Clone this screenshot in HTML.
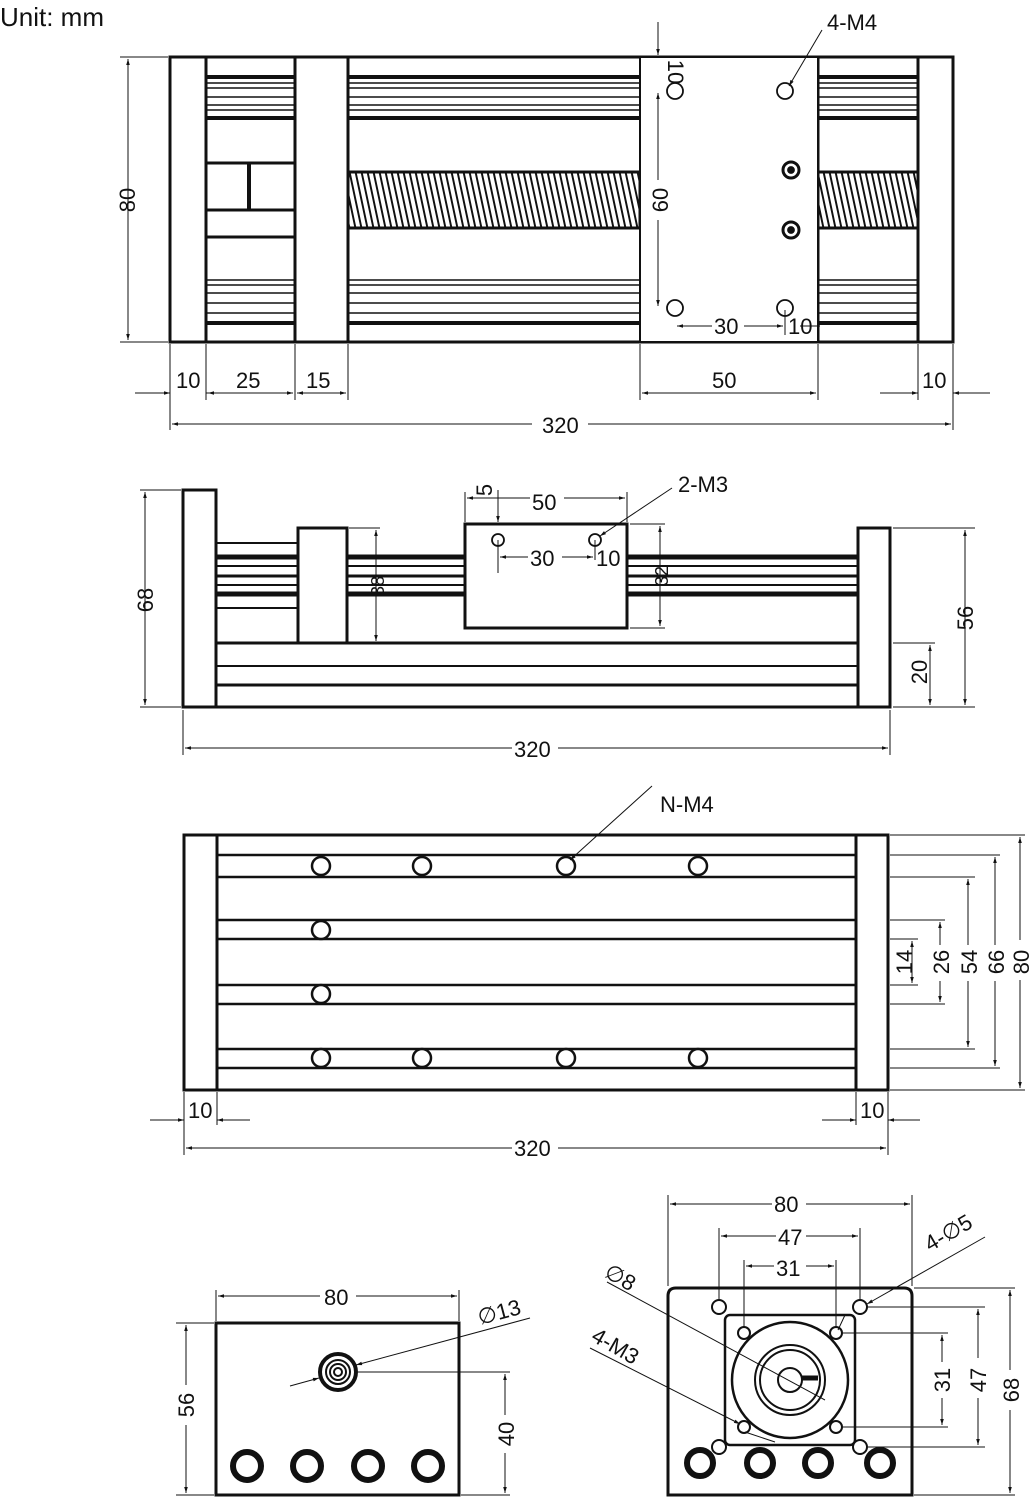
<!DOCTYPE html>
<html><head><meta charset="utf-8"><style>
html,body{margin:0;padding:0;background:#fff}
svg{display:block}
text{font-family:"Liberation Sans",sans-serif;font-size:22px;fill:#111}
</style></head><body>
<svg width="1034" height="1500" viewBox="0 0 1034 1500" xmlns="http://www.w3.org/2000/svg">
<defs>
<marker id="a" viewBox="0 0 10 10" refX="10" refY="5" markerWidth="10" markerHeight="6" orient="auto-start-reverse" markerUnits="userSpaceOnUse"><path d="M0,2 L10,5 L0,8z" fill="#111"/></marker>
<pattern id="h" width="6" height="60" patternUnits="userSpaceOnUse" patternTransform="skewX(12)"><rect x="0" y="0" width="2" height="60" fill="#111"/></pattern>
</defs>
<text x="0" y="26" style="font-size:26px">Unit: mm</text>

<!-- VIEW 1 -->
<g stroke="#111" fill="none" stroke-width="1.6">
<rect x="170" y="57" width="783" height="285" stroke-width="3"/>
<line x1="206" y1="57" x2="206" y2="342" stroke-width="3"/>
<line x1="295" y1="57" x2="295" y2="342" stroke-width="3"/>
<line x1="348" y1="57" x2="348" y2="342" stroke-width="3"/>
<line x1="640" y1="57" x2="640" y2="342" stroke-width="2"/>
<line x1="818" y1="57" x2="818" y2="342" stroke-width="3"/>
<line x1="918" y1="57" x2="918" y2="342" stroke-width="3"/>
<!-- rails -->
<g id="rl">
<line x1="0" y1="77" x2="0" y2="77" />
</g>
</g>
<g stroke="#111" stroke-width="1.6">
<path d="M206 77H295M348 77H640M818 77H918" stroke-width="4"/>
<path d="M206 83H295M348 83H640M818 83H918"/>
<path d="M206 88H295M348 88H640M818 88H918"/>
<path d="M206 97H295M348 97H640M818 97H918"/>
<path d="M206 105H295M348 105H640M818 105H918"/>
<path d="M206 110H295M348 110H640M818 110H918"/>
<path d="M206 118H295M348 118H640M818 118H918" stroke-width="4"/>
<path d="M206 280H295M348 280H640M818 280H918"/>
<path d="M206 285H295M348 285H640M818 285H918"/>
<path d="M206 293H295M348 293H640M818 293H918"/>
<path d="M206 303H295M348 303H640M818 303H918"/>
<path d="M206 313H295M348 313H640M818 313H918"/>
<path d="M206 323H295M348 323H640M818 323H918" stroke-width="4"/>
<path d="M206 163H295M206 210H295M206 237H295" stroke-width="3"/>
<path d="M249 163V210" stroke-width="4"/>
</g>
<rect x="348" y="172" width="292" height="56" fill="url(#h)" stroke="#111" stroke-width="3"/>
<rect x="818" y="172" width="100" height="56" fill="url(#h)" stroke="#111" stroke-width="3"/>
<rect x="641" y="58" width="176" height="283" fill="#fff"/>
<g stroke="#111" fill="none" stroke-width="1.8">
<circle cx="675" cy="91" r="8"/><circle cx="785" cy="91" r="8"/>
<circle cx="675" cy="308" r="8"/><circle cx="785" cy="308" r="8"/>
<circle cx="791" cy="170" r="8" stroke-width="3"/><circle cx="791" cy="170" r="3" fill="#111"/>
<circle cx="791" cy="230" r="8" stroke-width="3"/><circle cx="791" cy="230" r="3" fill="#111"/>
</g>
<g stroke="#111" stroke-width="1" fill="none">
<line x1="120" y1="57" x2="168" y2="57"/><line x1="120" y1="342" x2="168" y2="342"/>
<line x1="128" y1="59" x2="128" y2="340" marker-start="url(#a)" marker-end="url(#a)"/>
<path d="M170 344V430M206 344V400M295 344V400M348 344V400M640 344V400M818 344V400M918 344V400M953 344V430"/>
<line x1="135" y1="393" x2="170" y2="393" marker-end="url(#a)"/><line x1="206" y1="393" x2="210" y2="393"/>
<line x1="208" y1="393" x2="293" y2="393" marker-start="url(#a)" marker-end="url(#a)"/>
<line x1="297" y1="393" x2="346" y2="393" marker-start="url(#a)" marker-end="url(#a)"/>
<line x1="642" y1="393" x2="816" y2="393" marker-start="url(#a)" marker-end="url(#a)"/>
<line x1="880" y1="393" x2="918" y2="393" marker-end="url(#a)"/><line x1="990" y1="393" x2="953" y2="393" marker-end="url(#a)"/>
<line x1="172" y1="424" x2="951" y2="424" marker-start="url(#a)" marker-end="url(#a)"/>
<line x1="658" y1="22" x2="658" y2="55" marker-end="url(#a)"/>
<line x1="658" y1="93" x2="658" y2="306" marker-start="url(#a)" marker-end="url(#a)"/>
<line x1="677" y1="326" x2="783" y2="326" marker-start="url(#a)" marker-end="url(#a)"/>
<line x1="785" y1="310" x2="785" y2="335"/>
<line x1="822" y1="30" x2="789" y2="86" marker-end="url(#a)"/>
<line x1="820" y1="326" x2="800" y2="326" />
</g>
<rect x="532" y="410" width="56" height="28" fill="#fff"/>
<text x="542" y="433">320</text>
<text x="176" y="388">10</text><text x="236" y="388">25</text><text x="306" y="388">15</text>
<text x="712" y="388">50</text><text x="922" y="388">10</text>
<text transform="translate(135,200) rotate(-90)" text-anchor="middle">80</text>
<rect x="648" y="180" width="22" height="40" fill="#fff"/>
<text transform="translate(668,200) rotate(-90)" text-anchor="middle">60</text>
<text transform="translate(668,72) rotate(90)" text-anchor="middle">10</text>
<rect x="712" y="314" width="32" height="24" fill="#fff"/>
<text x="714" y="334">30</text><text x="788" y="334">10</text>
<text x="827" y="30">4-M4</text>

<!-- VIEW 2 -->
<g stroke="#111" fill="none" stroke-width="3">
<rect x="183" y="490" width="33" height="217"/>
<rect x="858" y="528" width="32" height="179"/>
<rect x="298" y="528" width="49" height="115"/>
<rect x="465" y="524" width="162" height="104"/>
<path d="M216 643H858M216 707H858"/>
<path d="M216 685H858" stroke-width="3"/>
<path d="M216 666H858" stroke-width="2"/>
<path d="M216 543H298M216 608H298" stroke-width="2"/>
<path d="M216 557H298M347 557H465M627 557H858" stroke-width="5"/>
<path d="M216 566H298M347 566H465M627 566H858" stroke-width="2"/>
<path d="M216 576H298M347 576H465M627 576H858" stroke-width="3"/>
<path d="M216 585H298M347 585H465M627 585H858" stroke-width="2"/>
<path d="M216 594H298M347 594H465M627 594H858" stroke-width="5"/>
</g>
<g stroke="#111" fill="none" stroke-width="1.8"><circle cx="498" cy="540" r="6"/><circle cx="595" cy="540" r="6"/></g>
<g stroke="#111" stroke-width="1" fill="none">
<path d="M140 490H181M140 707H181M183 710V755M890 710V755M349 528H380M349 643H380M630 524H665M630 628H665M893 528H975M893 707H975M893 643H935M465 492V522M627 492V522M498 540V573M595 540V560"/>
<line x1="145" y1="492" x2="145" y2="705" marker-start="url(#a)" marker-end="url(#a)"/>
<line x1="185" y1="748" x2="888" y2="748" marker-start="url(#a)" marker-end="url(#a)"/>
<line x1="376" y1="530" x2="376" y2="641" marker-start="url(#a)" marker-end="url(#a)"/>
<line x1="660" y1="526" x2="660" y2="626" marker-start="url(#a)" marker-end="url(#a)"/>
<line x1="965" y1="530" x2="965" y2="705" marker-start="url(#a)" marker-end="url(#a)"/>
<line x1="930" y1="645" x2="930" y2="705" marker-start="url(#a)" marker-end="url(#a)"/>
<line x1="467" y1="498" x2="625" y2="498" marker-start="url(#a)" marker-end="url(#a)"/>
<line x1="498" y1="490" x2="498" y2="522" marker-end="url(#a)"/>
<line x1="500" y1="557" x2="593" y2="557" marker-start="url(#a)" marker-end="url(#a)"/>
<line x1="672" y1="488" x2="600" y2="536" marker-end="url(#a)"/>
</g>
<rect x="512" y="737" width="46" height="24" fill="#fff"/><text x="514" y="757">320</text>
<rect x="530" y="488" width="34" height="24" fill="#fff"/><text x="532" y="510">50</text>
<rect x="528" y="546" width="34" height="24" fill="#fff"/><text x="530" y="566">30</text>
<text x="596" y="566">10</text>
<text x="678" y="492">2-M3</text>
<text transform="translate(492,490) rotate(-90)" text-anchor="middle">5</text>
<text transform="translate(153,600) rotate(-90)" text-anchor="middle">68</text>
<text transform="translate(973,618) rotate(-90)" text-anchor="middle">56</text>
<text transform="translate(927,672) rotate(-90)" text-anchor="middle">20</text>
<text transform="translate(384,586) rotate(-90)" text-anchor="middle" style="font-size:18px">38</text>
<text transform="translate(668,576) rotate(-90)" text-anchor="middle" style="font-size:18px">32</text>

<!-- VIEW 3 -->
<g stroke="#111" fill="none" stroke-width="3">
<rect x="184" y="835" width="704" height="255"/>
<path d="M217 835V1090M856 835V1090"/>
<path d="M217 855H856M217 877H856M217 920H856M217 939H856M217 985H856M217 1004H856M217 1049H856M217 1068H856" stroke-width="2.5"/>
</g>
<g stroke="#111" stroke-width="2.5" fill="#fff">
<circle cx="321" cy="866" r="9"/><circle cx="422" cy="866" r="9"/><circle cx="566" cy="866" r="9"/><circle cx="698" cy="866" r="9"/>
<circle cx="321" cy="930" r="9"/><circle cx="321" cy="994" r="9"/>
<circle cx="321" cy="1058" r="9"/><circle cx="422" cy="1058" r="9"/><circle cx="566" cy="1058" r="9"/><circle cx="698" cy="1058" r="9"/>
</g>
<g stroke="#111" stroke-width="1" fill="none">
<path d="M890 835H1025M890 855H1000M890 877H975M890 920H945M890 939H918M890 985H918M890 1004H945M890 1049H975M890 1068H1000M890 1090H1025M184 1092V1155M217 1092V1125M856 1092V1125M888 1092V1155"/>
<line x1="1020" y1="837" x2="1020" y2="1088" marker-start="url(#a)" marker-end="url(#a)"/>
<line x1="995" y1="857" x2="995" y2="1066" marker-start="url(#a)" marker-end="url(#a)"/>
<line x1="968" y1="879" x2="968" y2="1047" marker-start="url(#a)" marker-end="url(#a)"/>
<line x1="940" y1="922" x2="940" y2="1002" marker-start="url(#a)" marker-end="url(#a)"/>
<line x1="912" y1="941" x2="912" y2="983" marker-start="url(#a)" marker-end="url(#a)"/>
<line x1="186" y1="1148" x2="886" y2="1148" marker-start="url(#a)" marker-end="url(#a)"/>
<line x1="150" y1="1120" x2="184" y2="1120" marker-end="url(#a)"/><line x1="250" y1="1120" x2="217" y2="1120" marker-end="url(#a)"/>
<line x1="822" y1="1120" x2="856" y2="1120" marker-end="url(#a)"/><line x1="920" y1="1120" x2="888" y2="1120" marker-end="url(#a)"/>
<line x1="652" y1="786" x2="570" y2="860" marker-end="url(#a)"/>
</g>
<rect x="512" y="1136" width="46" height="24" fill="#fff"/><text x="514" y="1156">320</text>
<text x="188" y="1118">10</text><text x="860" y="1118">10</text>
<text x="660" y="812">N-M4</text>
<g fill="#fff"><rect x="1010" y="940" width="20" height="40"/><rect x="985" y="945" width="20" height="36"/><rect x="958" y="945" width="20" height="36"/><rect x="930" y="945" width="20" height="36"/></g>
<text transform="translate(1029,962) rotate(-90)" text-anchor="middle">80</text>
<text transform="translate(1004,962) rotate(-90)" text-anchor="middle">66</text>
<text transform="translate(977,962) rotate(-90)" text-anchor="middle">54</text>
<text transform="translate(949,962) rotate(-90)" text-anchor="middle">26</text>
<text transform="translate(912,962) rotate(-90)" text-anchor="middle">14</text>

<!-- VIEW 4 -->
<g stroke="#111" fill="none" stroke-width="3">
<rect x="216" y="1323" width="243" height="172"/>
<circle cx="338" cy="1372" r="18" stroke-width="4"/><circle cx="338" cy="1372" r="12" stroke-width="2"/><circle cx="338" cy="1372" r="8" stroke-width="2"/><circle cx="338" cy="1372" r="4" stroke-width="2"/>
</g>
<g stroke="#111" fill="#fff">
<circle cx="247" cy="1466" r="14" stroke-width="6"/><circle cx="307" cy="1466" r="14" stroke-width="6"/><circle cx="368" cy="1466" r="14" stroke-width="6"/><circle cx="428" cy="1466" r="14" stroke-width="6"/>
</g>
<g stroke="#111" stroke-width="1" fill="none">
<path d="M216 1290V1321M459 1290V1321M176 1323H214M176 1495H214M358 1372H510M461 1495H510"/>
<line x1="218" y1="1296" x2="457" y2="1296" marker-start="url(#a)" marker-end="url(#a)"/>
<line x1="186" y1="1325" x2="186" y2="1493" marker-start="url(#a)" marker-end="url(#a)"/>
<line x1="505" y1="1374" x2="505" y2="1493" marker-start="url(#a)" marker-end="url(#a)"/>
<line x1="530" y1="1318" x2="356" y2="1365" marker-end="url(#a)"/>
<line x1="290" y1="1386" x2="319" y2="1378" marker-end="url(#a)"/>
</g>
<rect x="320" y="1284" width="36" height="24" fill="#fff"/><text x="324" y="1305">80</text>
<rect x="176" y="1385" width="20" height="40" fill="#fff"/><text transform="translate(194,1405) rotate(-90)" text-anchor="middle">56</text>
<rect x="495" y="1415" width="20" height="38" fill="#fff"/><text transform="translate(514,1434) rotate(-90)" text-anchor="middle">40</text>
<text transform="translate(480,1325) rotate(-15)">∅13</text>

<!-- VIEW 5 -->
<g stroke="#111" fill="none" stroke-width="3">
<path d="M668 1495V1296Q668 1288 676 1288H904Q912 1288 912 1296V1495Z"/>
<rect x="725" y="1315" width="130" height="130" rx="5" stroke-width="2.5"/>
<circle cx="790" cy="1380" r="58" stroke-width="2.5"/>
<circle cx="790" cy="1380" r="35" stroke-width="2"/><circle cx="790" cy="1380" r="30" stroke-width="2"/>
<circle cx="790" cy="1380" r="12" stroke-width="2"/>
<path d="M802 1378H818" stroke-width="5"/>
</g>
<g stroke="#111" stroke-width="2" fill="#fff">
<circle cx="719" cy="1307" r="7"/><circle cx="860" cy="1307" r="7"/><circle cx="719" cy="1447" r="7"/><circle cx="860" cy="1447" r="7"/>
<circle cx="744" cy="1333" r="6"/><circle cx="836" cy="1333" r="6"/><circle cx="744" cy="1427" r="6"/><circle cx="836" cy="1427" r="6"/>
</g>
<g stroke="#111" fill="#fff">
<circle cx="700" cy="1463" r="13" stroke-width="6"/><circle cx="760" cy="1463" r="13" stroke-width="6"/><circle cx="818" cy="1463" r="13" stroke-width="6"/><circle cx="880" cy="1463" r="13" stroke-width="6"/>
</g>
<g stroke="#111" stroke-width="1" fill="none">
<path d="M668 1195V1286M912 1195V1286M719 1228V1300M860 1228V1300M744 1260V1327M836 1260V1327M914 1288H1015M868 1307H985M842 1333H948M842 1427H948M868 1447H985M914 1495H1015"/>
<line x1="670" y1="1204" x2="910" y2="1204" marker-start="url(#a)" marker-end="url(#a)"/>
<line x1="721" y1="1236" x2="858" y2="1236" marker-start="url(#a)" marker-end="url(#a)"/>
<line x1="746" y1="1266" x2="834" y2="1266" marker-start="url(#a)" marker-end="url(#a)"/>
<line x1="942" y1="1335" x2="942" y2="1425" marker-start="url(#a)" marker-end="url(#a)"/>
<line x1="978" y1="1309" x2="978" y2="1445" marker-start="url(#a)" marker-end="url(#a)"/>
<line x1="1010" y1="1290" x2="1010" y2="1493" marker-start="url(#a)" marker-end="url(#a)"/>
<line x1="985" y1="1237" x2="867" y2="1304" marker-end="url(#a)"/>
<line x1="845" y1="1315" x2="838" y2="1330"/>
<line x1="607" y1="1282" x2="825" y2="1400"/>
<line x1="590" y1="1348" x2="740" y2="1424" marker-end="url(#a)"/>
<line x1="745" y1="1432" x2="775" y2="1442"/>
</g>
<rect x="772" y="1192" width="34" height="24" fill="#fff"/><text x="774" y="1212">80</text>
<rect x="776" y="1225" width="30" height="24" fill="#fff"/><text x="778" y="1245">47</text>
<rect x="774" y="1255" width="32" height="24" fill="#fff"/><text x="776" y="1276">31</text>
<g fill="#fff"><rect x="932" y="1362" width="20" height="36"/><rect x="968" y="1358" width="20" height="40"/><rect x="1000" y="1370" width="20" height="40"/></g>
<text transform="translate(950,1380) rotate(-90)" text-anchor="middle">31</text>
<text transform="translate(986,1380) rotate(-90)" text-anchor="middle">47</text>
<text transform="translate(1019,1390) rotate(-90)" text-anchor="middle">68</text>
<text transform="translate(930,1252) rotate(-30)">4-∅5</text>
<text transform="translate(603,1276) rotate(30)">∅8</text>
<text transform="translate(590,1340) rotate(30)">4-M3</text>
</svg>
</body></html>
